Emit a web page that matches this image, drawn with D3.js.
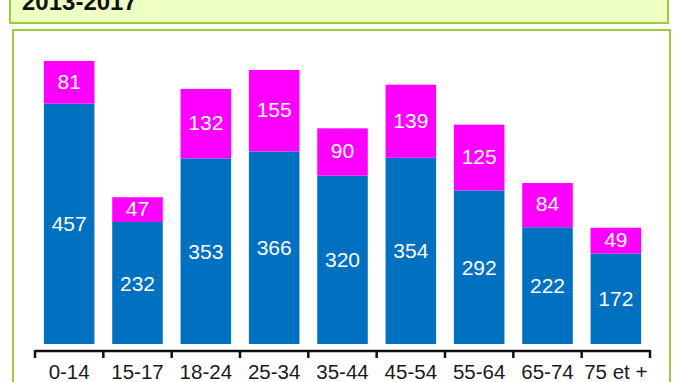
<!DOCTYPE html>
<html><head><meta charset="utf-8">
<script src="https://cdn.jsdelivr.net/npm/d3@7"></script>
<style>body{margin:0;background:#fff}svg{display:block}</style>
</head><body>
<script>
const categories = ["0-14","15-17","18-24","25-34","35-44","45-54","55-64","65-74","75 et +"];
const lower = [457,232,353,366,320,354,292,222,172];
const upper = [81,47,132,155,90,139,125,84,49];
const title = "2013-2017";

const W = 679, H = 382;
const svg = d3.select("body").append("svg").attr("width", W).attr("height", H);

// title box
svg.append("rect").attr("x",10).attr("y",-10).attr("width",658).attr("height",33)
  .attr("fill","#eeffc4").attr("stroke","#9ccb3e").attr("stroke-width",2);
svg.append("text").attr("x",22).attr("y",10).text(title)
  .attr("font-family","Liberation Sans, Arial, sans-serif").attr("font-weight","bold")
  .attr("font-size",24).attr("fill","#111");

// chart box
svg.append("rect").attr("x",13).attr("y",30).attr("width",657).attr("height",370)
  .attr("fill","#fff").attr("stroke","#9ccb3e").attr("stroke-width",2);

const x = d3.scaleBand().domain(categories).range([35,650]).paddingInner(0.26).paddingOuter(0.13);
const y = d3.scaleLinear().domain([0,600]).range([344, 344-600*0.526]);

const data = categories.map((c,i)=>({c, a:lower[i], b:upper[i]}));
const g = svg.append("g");
g.selectAll("rect.lo").data(data).join("rect").attr("class","lo")
  .attr("x",d=>x(d.c)).attr("width",x.bandwidth())
  .attr("y",d=>y(d.a)).attr("height",d=>y(0)-y(d.a)).attr("fill","#0070c0");
g.selectAll("rect.hi").data(data).join("rect").attr("class","hi")
  .attr("x",d=>x(d.c)).attr("width",x.bandwidth())
  .attr("y",d=>y(d.a+d.b)).attr("height",d=>y(d.a)-y(d.a+d.b)).attr("fill","#ff00ff");

const lab = {"font-family":"Liberation Sans, Arial, sans-serif","font-size":21,"fill":"#fff","text-anchor":"middle"};
function style(sel){ for (const k in lab) sel.attr(k, lab[k]); return sel; }
style(g.selectAll("text.lo").data(data).join("text").attr("class","lo")
  .attr("x",d=>x(d.c)+x.bandwidth()/2).attr("y",d=>(y(0)+y(d.a))/2).attr("dy","0.36em").text(d=>d.a));
style(g.selectAll("text.hi").data(data).join("text").attr("class","hi")
  .attr("x",d=>x(d.c)+x.bandwidth()/2).attr("y",d=>(y(d.a)+y(d.a+d.b))/2).attr("dy","0.3em").text(d=>d.b));

// axis
const axisY = 351;
const ax = svg.append("g").attr("transform",`translate(0,${axisY})`);
ax.append("line").attr("x1",35).attr("x2",650).attr("stroke","#111").attr("stroke-width",2.5);
const edges = categories.map(c=>x(c)-x.step()*x.paddingInner()/2);
edges.push(650);
edges[0]=35;
ax.selectAll("line.t").data(edges).join("line").attr("class","t")
  .attr("x1",d=>d).attr("x2",d=>d).attr("y1",-1).attr("y2",7).attr("stroke","#111").attr("stroke-width",2.5);
ax.selectAll("text").data(categories).join("text")
  .attr("x",d=>x(d)+x.bandwidth()/2).attr("y",28).attr("text-anchor","middle")
  .attr("font-family","Liberation Sans, Arial, sans-serif").attr("font-size",20.5).attr("fill","#1a1a1a").text(d=>d);
</script>
</body></html>
